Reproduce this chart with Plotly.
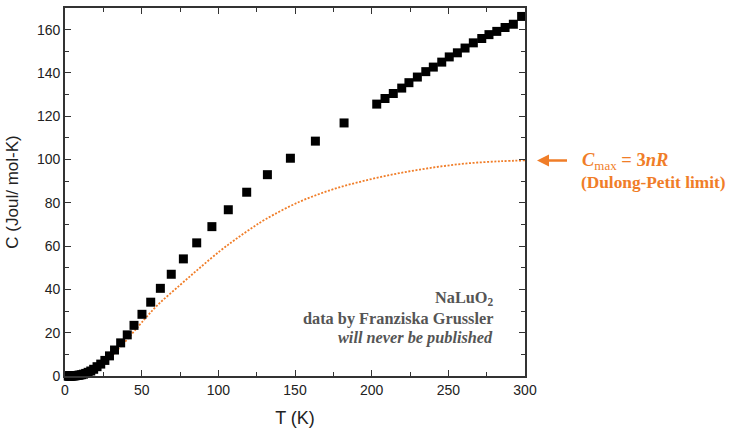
import plotly.graph_objects as go

# Measured specific heat of NaLuO2
temp_K = [2.1, 2.4, 2.6, 2.9, 3.3, 3.6, 4.1, 4.5, 5.1, 5.7, 6.3, 7.0, 7.8, 8.7,
          9.7, 10.9, 12.1, 13.5, 15.1, 16.8, 18.7, 20.9, 23.3, 26.0, 29.0, 32.3,
          36.3, 40.6, 45.0, 50.2, 55.9, 62.2, 69.3, 77.2, 85.9, 95.8, 106.5,
          118.5, 132.0, 147.0, 163.3, 182.0,
          203.3, 208.7, 214.1, 219.6, 224.3, 229.8, 235.3, 240.2, 245.7, 250.6,
          255.9, 260.9, 266.3, 271.8, 276.5, 281.6, 287.0, 292.4, 297.8, 301.5]
heat_cap = [0.01, 0.01, 0.01, 0.02, 0.02, 0.03, 0.04, 0.05, 0.07, 0.09, 0.12,
            0.17, 0.24, 0.33, 0.45, 0.62, 0.85, 1.2, 1.7, 2.3, 3.1, 4.3, 5.5,
            7.2, 9.3, 12.0, 15.3, 19.0, 23.4, 28.5, 34.1, 40.5, 47.0, 54.1,
            61.5, 69.0, 76.8, 84.9, 93.0, 100.6, 108.5, 116.9,
            125.6, 128.2, 130.5, 133.0, 135.5, 138.1, 140.6, 142.7, 145.0, 147.4,
            149.3, 151.5, 153.9, 155.9, 157.7, 159.2, 161.0, 162.5, 166.1, 167.1]

# Lattice (phonon) model curve approaching the Dulong-Petit value
model_T = [0, 5, 10, 15, 20, 25, 30, 35, 40, 45, 50, 60, 75, 88, 101, 110, 120,
           131, 153, 175, 197, 218, 240, 262, 284, 300]
model_C = [0.0, 0.15, 0.7, 1.8, 3.6, 6.0, 9.0, 12.6, 16.5, 20.6, 24.7, 32.5,
           42.0, 50.0, 57.7, 62.5, 67.5, 72.5, 80.5, 86.3, 90.5, 93.7, 96.3,
           98.2, 99.2, 99.6]

x_ticks = [0, 50, 100, 150, 200, 250, 300]
y_ticks = [0, 20, 40, 60, 80, 100, 120, 140, 160]

ORANGE = "#f07d28"
GRAY = "#555555"
AXIS = "#333333"

fig = go.Figure()
fig.add_trace(go.Scatter(
    x=model_T, y=model_C, mode="lines", line_shape="spline",
    line=dict(color=ORANGE, width=1.8, dash="2px,1.6px"),
    hoverinfo="skip", showlegend=False,
))
fig.add_trace(go.Scatter(
    x=temp_K, y=heat_cap, mode="markers", cliponaxis=False,
    marker=dict(symbol="square", size=9, color="black", line=dict(width=0)),
    showlegend=False,
))

axis_common = dict(
    showline=True, linecolor=AXIS, linewidth=1.7, mirror="ticks",
    ticks="inside", ticklen=6, tickwidth=1.4, tickcolor=AXIS,
    showgrid=False, zeroline=False,
    tickfont=dict(family="Liberation Sans, Arial", size=14, color="#222222"),
)

fig.update_xaxes(
    range=[0, 300], tickvals=x_ticks,
    minor=dict(dtick=25, ticks="inside", ticklen=4, tickwidth=1.2, tickcolor=AXIS),
    title=dict(text="T (K)", standoff=15,
               font=dict(family="Liberation Sans, Arial", size=18, color="#222222")),
    **axis_common,
)
fig.update_yaxes(
    range=[0, 170], tickvals=y_ticks,
    minor=dict(dtick=10, ticks="inside", ticklen=4, tickwidth=1.2, tickcolor=AXIS),
    title=dict(text="C (Joul/ mol-K)", standoff=14,
               font=dict(family="Liberation Sans, Arial", size=17, color="#222222")),
    **axis_common,
)

serif = "Liberation Serif, Times New Roman"
notes = [
    ("<b>NaLuO<sub>2</sub></b>", 298.5),
    ("<b>data by Franziska Grussler</b>", 319.5),
    ("<b><i>will never be published</i></b>", 338.5),
]
annotations = []
for text, ypx in notes:
    annotations.append(dict(
        text=text, xref="paper", yref="paper",
        x=(495 - 65) / 460, y=(377.7 - ypx) / 371.7,
        xanchor="right", yanchor="middle", showarrow=False,
        font=dict(family=serif, size=16.3, color=GRAY),
    ))

# Dulong-Petit arrow and label
annotations.append(dict(
    text=" ", xref="paper", yref="paper",
    x=(537 - 65) / 460, y=(377.7 - 160) / 371.7,
    ax=33, ay=0, showarrow=True, arrowhead=2, arrowsize=1,
    arrowwidth=2.4, arrowcolor=ORANGE,
))
annotations.append(dict(
    text="<b><i>C</i></b><sub>max</sub><b> = 3<i>nR</i></b>",
    xref="paper", yref="paper",
    x=(580 - 65) / 460, y=(377.7 - 161) / 371.7,
    xanchor="left", yanchor="middle", showarrow=False,
    font=dict(family=serif, size=18.5, color=ORANGE),
))
annotations.append(dict(
    text="<b>(Dulong-Petit limit)</b>",
    xref="paper", yref="paper",
    x=(579 - 65) / 460, y=(377.7 - 182) / 371.7,
    xanchor="left", yanchor="middle", showarrow=False,
    font=dict(family=serif, size=17.3, color=ORANGE),
))

fig.update_layout(
    width=733, height=431,
    margin=dict(l=65, r=208, t=6, b=53),
    paper_bgcolor="white", plot_bgcolor="white",
    annotations=annotations,
)

fig.write_html("out.html")
